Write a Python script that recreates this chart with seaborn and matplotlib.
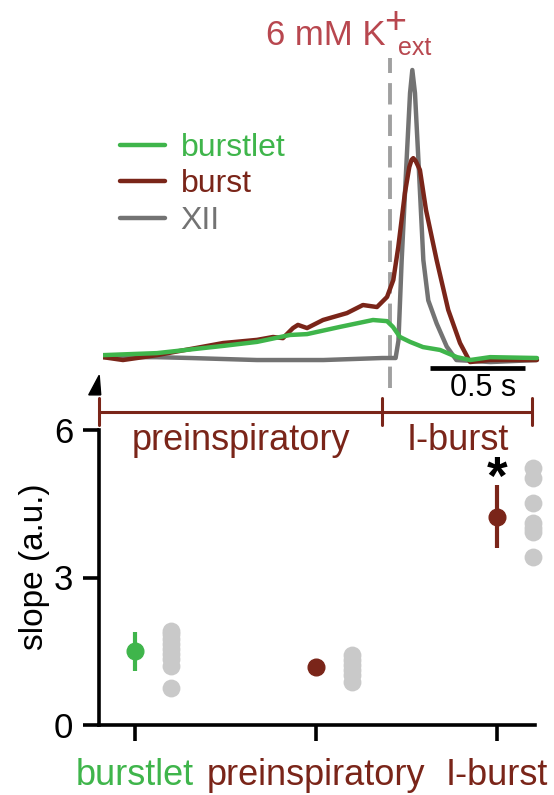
import numpy as np
import pandas as pd
import matplotlib
matplotlib.use("Agg")
import matplotlib.pyplot as plt
import seaborn as sns
from matplotlib.patches import Polygon

# ---------------- trace data (time in s, normalised amplitude) ----------------
xii_t = [0.0, 0.28, 0.46, 0.81, 1.16, 1.47, 1.54, 1.555, 1.572, 1.598, 1.616, 1.628,
         1.642, 1.66, 1.686, 1.712, 1.756, 1.809, 1.86, 2.04, 2.28]
xii_a = [0.003, 0.003, 0.0, -0.007, -0.007, 0.0, 0.0, 0.06, 0.34, 0.688, 0.92, 1.0,
         0.92, 0.688, 0.34, 0.20, 0.12, 0.04, -0.007, -0.014, -0.007]

burst_t = [0.0, 0.105, 0.284, 0.458, 0.632, 0.811, 0.895, 0.947, 1.0, 1.026, 1.074,
           1.158, 1.284, 1.368, 1.442, 1.495, 1.528, 1.554, 1.589, 1.612, 1.624, 1.633,
           1.645, 1.668, 1.70, 1.756, 1.817, 1.879, 1.932, 2.037, 2.284]
burst_a = [0.003, -0.007, 0.01, 0.031, 0.052, 0.063, 0.073, 0.069, 0.104, 0.115, 0.104,
           0.132, 0.156, 0.184, 0.177, 0.212, 0.271, 0.385, 0.573, 0.663, 0.688, 0.694,
           0.685, 0.653, 0.514, 0.34, 0.167, 0.052, -0.014, -0.007, -0.007]

burstlet_t = [0.0, 0.284, 0.632, 0.811, 0.984, 1.074, 1.247, 1.421, 1.495, 1.526,
              1.563, 1.616, 1.684, 1.774, 1.863, 1.932, 2.037, 2.284]
burstlet_a = [0.01, 0.017, 0.042, 0.056, 0.08, 0.083, 0.108, 0.132, 0.128, 0.108,
              0.073, 0.056, 0.038, 0.028, 0.003, -0.007, 0.003, 0.0]

trace_names = ["burstlet", "burst", "XII"]
k_onset = 1.51                      # s, dashed line
phase_edges = [-0.02, 1.47, 2.26]   # s
phase_labels = ["preinspiratory", "I-burst"]
scale_bar_s = 0.5

# ---------------- slope data ----------------
categories = ["burstlet", "preinspiratory", "I-burst"]
burstlet_pts = [1.92, 1.85, 1.75, 1.65, 1.55, 1.45, 1.35, 1.20, 0.75]
preinsp_pts = [1.42, 1.32, 1.22, 1.12, 1.02, 0.88]
iburst_pts = [5.22, 5.02, 4.51, 4.11, 4.00, 3.92, 3.42]
means = [1.51, 1.18, 4.23]
err_lo = [0.41, 0.10, 0.64]
err_hi = [0.38, 0.10, 0.65]
significant = [False, False, True]
yticks = [0, 3, 6]

# ---------------- style ----------------
GREEN = "#3fb54b"
DRED = "#7a2519"
GRAY = "#737373"
LGRAY = "#c9c9c9"
TITLE = "#b8474f"
cat_colors = [GREEN, DRED, DRED]

sns.set_style("ticks")
plt.rcParams["font.family"] = ["Liberation Sans", "DejaVu Sans"]
for k in ["text.color", "axes.edgecolor", "axes.labelcolor", "xtick.color", "ytick.color"]:
    plt.rcParams[k] = "black"

W, H = 554, 795
fig = plt.figure(figsize=(W / 100, H / 100), dpi=100)


def fx(px):
    return px / W


def fy(py):
    return 1 - py / H


# ---------------- bottom panel: slopes ----------------
ax = fig.add_axes([fx(99), fy(725), (535 - 99) / W, (725 - 430) / H])
ax.set_facecolor("none")
pts = [burstlet_pts, preinsp_pts, iburst_pts]
df = pd.DataFrame({
    "pos": np.concatenate([[i + 0.2] * len(p) for i, p in enumerate(pts)]),
    "slope": np.concatenate(pts),
})
sns.scatterplot(data=df, x="pos", y="slope", color=LGRAY, s=165, linewidth=0,
                ax=ax, zorder=2, clip_on=False)

for i, (m, lo, hi, c) in enumerate(zip(means, err_lo, err_hi, cat_colors)):
    ax.errorbar([i], [m], yerr=[[lo], [hi]], fmt="o", color=c, ms=12, elinewidth=3,
                capsize=0, zorder=3, clip_on=False)
    if significant[i]:
        ax.text(i, m + hi - 0.18, "*", fontsize=38, fontweight="bold", color="black",
                ha="center", va="baseline")

ax.set_xlim(-0.2, 2.21)
ax.set_ylim(0, 6)
ax.set_yticks(yticks)
ax.set_xticks(range(len(categories)))
ax.set_xticklabels(categories)
for lbl, c in zip(ax.get_xticklabels(), cat_colors):
    lbl.set_color(c)
ax.tick_params(axis="x", labelsize=26, length=11.5, width=2.6, pad=12)
ax.tick_params(axis="y", labelsize=25, length=11.5, width=2.6, pad=7)
for s in ["left", "bottom"]:
    ax.spines[s].set_linewidth(2.6)
sns.despine(ax=ax)
ax.set_xlabel("")
ax.set_ylabel("slope (a.u.)", fontsize=24)
ax.yaxis.set_label_coords(-0.112, 0.536)

# ---------------- top panel: traces ----------------
ax_top = fig.add_axes([fx(103), fy(450), (540 - 103) / W, (450 - 40) / H])
ax_top.set_xlim(0, 2.3)
ax_top.set_ylim(-0.3194, 1.1042)
ax_top.axis("off")

sns.lineplot(x=xii_t, y=xii_a, color=GRAY, lw=3.2, ax=ax_top, label=trace_names[2],
             sort=False, zorder=2)
sns.lineplot(x=burst_t, y=burst_a, color=DRED, lw=3.2, ax=ax_top, label=trace_names[1],
             sort=False, zorder=3)
sns.lineplot(x=burstlet_t, y=burstlet_a, color=GREEN, lw=3.2, ax=ax_top,
             label=trace_names[0], sort=False, zorder=4)

handles, labels = ax_top.get_legend_handles_labels()
order = [labels.index(n) for n in trace_names]
leg = ax_top.legend([handles[i] for i in order], [labels[i] for i in order],
                    loc="upper left", bbox_to_anchor=(fx(120), fy(133)),
                    bbox_transform=fig.transFigure, frameon=False, fontsize=23,
                    handlelength=1.4, handletextpad=0.5, labelspacing=0.2,
                    borderpad=0, borderaxespad=0)
for txt, c in zip(leg.get_texts(), [GREEN, DRED, GRAY]):
    txt.set_color(c)
for lh in leg.get_lines():
    lh.set_linewidth(3.2)

# dashed onset line
ax_top.plot([k_onset, k_onset], [-0.104, 1.042], color="#a0a0a0", lw=2.8,
            ls=(0, (5.5, 2.6)), clip_on=False, zorder=1)

# scale bar
sb_x0 = 1.72
ax_top.plot([sb_x0, sb_x0 + scale_bar_s], [-0.035, -0.035], color="black", lw=3.4,
            solid_capstyle="butt", clip_on=False)
ax_top.text(sb_x0 + scale_bar_s / 2 + 0.03, -0.104, f"{scale_bar_s} s", fontsize=22,
            ha="center", va="center", color="black")

# phase bracket
yb, yt0, yt1 = -0.186, -0.139, -0.233
ax_top.plot([phase_edges[0], phase_edges[-1]], [yb, yb], color=DRED, lw=2.2,
            clip_on=False)
for e in phase_edges:
    ax_top.plot([e, e], [yt0, yt1], color=DRED, lw=2.2, clip_on=False)
for i, lab in enumerate(phase_labels):
    ax_top.text((phase_edges[i] + phase_edges[i + 1]) / 2, -0.285, lab,
                fontsize=26, color=DRED, ha="center", va="center")

# arrowhead
ax_top.add_patch(Polygon([[-0.075, -0.128], [-0.012, -0.128], [-0.02, -0.06]],
                         closed=True, color="black", clip_on=False))

# title
fig.text(fx(266), fy(45), "6 mM K", fontsize=25, color=TITLE, ha="left", va="baseline")
fig.text(fx(384), fy(33), "+", fontsize=27, color=TITLE, ha="left", va="baseline")
fig.text(fx(398), fy(55), "ext", fontsize=18, color=TITLE, ha="left", va="baseline")

fig.savefig("out.png", dpi=100)
